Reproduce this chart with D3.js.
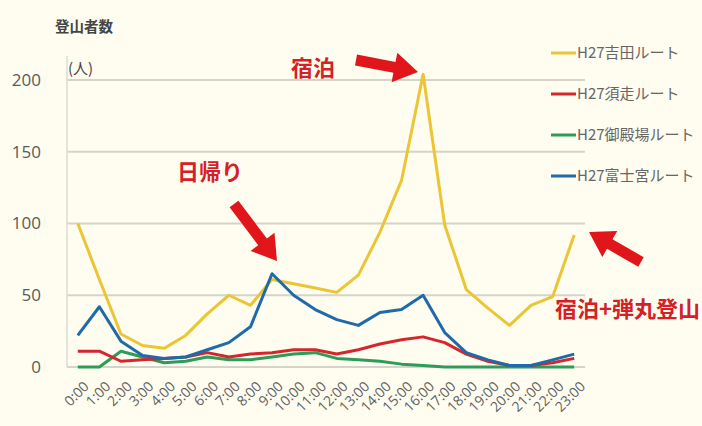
<!DOCTYPE html>
<html>
<head>
<meta charset="utf-8">
<script src="https://cdn.jsdelivr.net/npm/d3@7"></script>
<style>
  body { margin: 0; background: #fefdf0; overflow: hidden; }
  svg { display: block; font-family: "Noto Sans CJK JP", "Noto Sans", sans-serif; }
</style>
</head>
<body>
<script>
// Data {{{1
const hours = ["0:00","1:00","2:00","3:00","4:00","5:00","6:00","7:00","8:00","9:00","10:00","11:00",
  "12:00","13:00","14:00","15:00","16:00","17:00","18:00","19:00","20:00","21:00","22:00","23:00"];
const yoshida   = [100, 61, 23, 15, 13, 22, 37, 50, 43, 61, 58, 55, 52, 64, 94, 130, 204, 99, 54, 41, 29, 43, 49, 92];
const subashiri = [11, 11, 4, 5, 6, 7, 10, 7, 9, 10, 12, 12, 9, 12, 16, 19, 21, 17, 9, 4, 1, 1, 3, 6];
const gotemba   = [0, 0, 11, 7, 3, 4, 7, 5, 5, 7, 9, 10, 6, 5, 4, 2, 1, 0, 0, 0, 0, 0, 0, 0];
const fujinomiya = [22, 42, 18, 8, 6, 7, 12, 17, 28, 65, 50, 40, 33, 29, 38, 40, 50, 24, 10, 5, 1, 1, 5, 9];
const yTicks = [0, 50, 100, 150, 200];
const seriesNames = ["H27吉田ルート", "H27須走ルート", "H27御殿場ルート", "H27富士宮ルート"];
const seriesColors = ["#ebc535", "#d4262c", "#2c9c58", "#1f6aa8"];

// Main {{{1
function main(width, height) {
    const svg = d3.select("body").append("svg")
        .attr("width", width).attr("height", height);

    const x = d3.scalePoint().domain(hours).range([67, 585]).padding(0.5);
    const y = d3.scaleLinear().domain([0, 200]).range([367, 80]);

    createGrid(svg, x, y);
    createAxes(svg, x, y);
    createLines(svg, x, y);
    createLegend(svg);
    createAnnotations(svg);
}
// Elements {{{1
function createGrid(svg, x, y) {
    svg.append("g")
        .selectAll("line")
        .data(yTicks)
        .join("line")
        .attr("x1", 67).attr("x2", 585)
        .attr("y1", (d) => y(d)).attr("y2", (d) => y(d))
        .attr("stroke", "#d6d4ca")
        .attr("stroke-width", 2);
    svg.append("line")
        .attr("x1", 67).attr("x2", 67)
        .attr("y1", 56).attr("y2", 367)
        .attr("stroke", "#dddbd0")
        .attr("stroke-width", 1.5);
}
function createAxes(svg, x, y) {
    const yAxis = svg.append("g")
        .attr("transform", "translate(41,0)")
        .call(d3.axisLeft(y).tickValues(yTicks).tickSize(0).tickPadding(0));
    yAxis.select(".domain").remove();
    yAxis.selectAll("text")
        .attr("font-size", 17)
        .attr("fill", "#5a5a5a")
        .attr("font-family", "'Open Sans', 'Noto Sans', sans-serif");

    const xAxis = svg.append("g")
        .attr("transform", "translate(0,380)")
        .call(d3.axisBottom(x).tickSize(0).tickPadding(0));
    xAxis.select(".domain").remove();
    xAxis.selectAll("text")
        .attr("font-size", 14)
        .attr("fill", "#5f5f5f")
        .attr("font-family", "'Open Sans', 'Noto Sans', sans-serif")
        .attr("text-anchor", "end")
        .attr("dy", "0.75em")
        .attr("transform", "translate(4,0) rotate(-45)");

    svg.append("text")
        .attr("x", 55).attr("y", 32)
        .attr("font-size", 14.5).attr("font-weight", "bold")
        .attr("fill", "#444")
        .text("登山者数");
    svg.append("text")
        .attr("x", 68).attr("y", 74)
        .attr("font-size", 15)
        .attr("fill", "#444")
        .text("(人)");
}
function createLines(svg, x, y) {
    const line = d3.line()
        .x((d, i) => x(hours[i]))
        .y((d) => y(d));
    const data = [yoshida, gotemba, subashiri, fujinomiya];
    const colors = [seriesColors[0], seriesColors[2], seriesColors[1], seriesColors[3]];
    svg.append("g")
        .selectAll("path")
        .data(data)
        .join("path")
        .attr("d", line)
        .attr("fill", "none")
        .attr("stroke", (d, i) => colors[i])
        .attr("stroke-width", 3)
        .attr("stroke-linejoin", "round");
}
function createLegend(svg) {
    const rows = svg.append("g")
        .selectAll("g")
        .data(seriesNames)
        .join("g")
        .attr("transform", (d, i) => "translate(551," + (53 + i * 41) + ")");
    rows.append("line")
        .attr("x1", 0).attr("x2", 25)
        .attr("stroke", (d, i) => seriesColors[i])
        .attr("stroke-width", 3);
    rows.append("text")
        .attr("x", 26).attr("dy", "0.35em")
        .attr("font-size", 15)
        .attr("fill", "#666")
        .text((d) => d);
}
function createAnnotations(svg) {
    const red = "#e0161b";
    const labels = [
        { text: "宿泊", x: 291, y: 76, size: 22 },
        { text: "日帰り", x: 177, y: 180, size: 22 },
        { text: "宿泊+弾丸登山", x: 555, y: 317, size: 22 }
    ];
    svg.append("g")
        .selectAll("text")
        .data(labels)
        .join("text")
        .attr("x", (d) => d.x).attr("y", (d) => d.y)
        .attr("font-size", (d) => d.size)
        .attr("font-weight", "bold")
        .attr("fill", "#d42026")
        .text((d) => d.text);

    const arrows = [
        { from: [356, 60], to: [418, 72] },
        { from: [234, 204], to: [277, 261] },
        { from: [641, 262], to: [589, 232] }
    ];
    svg.append("g")
        .selectAll("path")
        .data(arrows)
        .join("path")
        .attr("d", (d) => arrowPath(d.from, d.to, 11, 30, 24))
        .attr("fill", red);
}
// Utility {{{1
// Block arrow from a to b: shaft width sw, head width hw, head length hl.
function arrowPath(a, b, sw, hw, hl) {
    const dx = b[0] - a[0], dy = b[1] - a[1];
    const len = Math.hypot(dx, dy);
    const ux = dx / len, uy = dy / len;
    const nx = -uy, ny = ux;
    const bx = b[0] - ux * hl, by = b[1] - uy * hl;
    const p = (px, py, o) => [px + nx * o, py + ny * o];
    const pts = [
        p(a[0], a[1], sw / 2), p(bx, by, sw / 2), p(bx, by, hw / 2),
        b, p(bx, by, -hw / 2), p(bx, by, -sw / 2), p(a[0], a[1], -sw / 2)
    ];
    return "M" + pts.map((q) => q[0].toFixed(1) + "," + q[1].toFixed(1)).join("L") + "Z";
}

main(702, 426);
</script>
</body>
</html>
